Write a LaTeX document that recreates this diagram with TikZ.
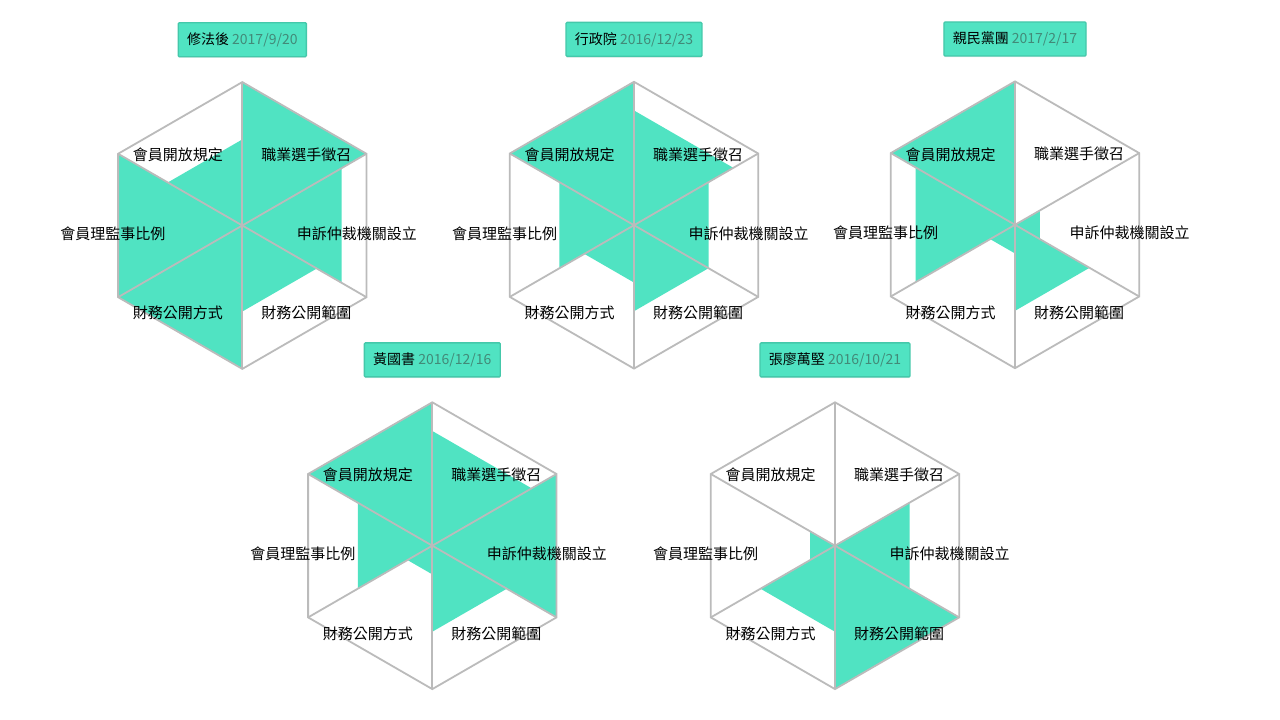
\documentclass[tikz,border=0pt]{standalone}
\usepackage{fontspec}
\setmainfont{Noto Sans CJK TC}
\usepackage{tikz}
\usetikzlibrary{calc,shadows}
\usepackage{xcolor}
\definecolor{mint}{RGB}{80,227,194}
\definecolor{mintdark}{RGB}{68,200,170}
\definecolor{dategray}{RGB}{66,138,120}
\definecolor{gridgray}{RGB}{187,187,187}
\tikzstyle{gridline} = [draw=gridgray, line width=1.8pt]
\tikzstyle{wedge} = [fill=mint, draw=none]
\tikzstyle{axislabel} = [inner sep=0pt, font=\fontsize{15pt}{18pt}\selectfont]
\tikzstyle{namebox} = [draw=mintdark, fill=mint, line width=1.3pt, rounded corners=1pt, inner xsep=8.8pt, minimum height=34pt, font=\fontsize{14pt}{16pt}\selectfont, drop shadow={opacity=0.15, shadow xshift=0pt, shadow yshift=-1.2pt}]

% id, x, y, name, date, six values
\newcommand{\radarchart}[6]{%
  \coordinate (#1) at (#2,#3);
  \foreach \v [count=\k] in {#6} {
    \pgfmathsetmacro{\ang}{120-60*\k}
    \pgfmathsetmacro{\r}{\v*143.4}
    \fill[wedge] (#1) -- ($(#1)+(\ang+30:\r)$) -- ($(#1)+(\ang-30:\r)$) -- cycle;
  }
  \foreach \k in {1,...,6}
    \coordinate (#1-\k) at ($(#1)+(150-60*\k:143.4)$);
  \foreach \k in {1,...,6}
    \draw[gridline] (#1) -- (#1-\k);
  \draw[gridline] (#1-1) -- (#1-2) -- (#1-3) -- (#1-4) -- (#1-5) -- (#1-6) -- cycle;
  \foreach \dx/\dy/\txt [count=\k] in {64/70.5/職業選手徵召, 114.5/-8.3/申訴仲裁機關設立, 64/-87.6/財務公開範圍, -64.5/-87.6/財務公開方式, -129.5/-8.3/會員理監事比例, -64.5/70.5/會員開放規定}
    \node[axislabel] (#1-lab\k) at ($(#1)+(\dx,\dy)$) {\txt};
  \node[namebox] (#1-title) at ($(#1)+(0,185.8)$) {#4 \textcolor{dategray}{#5}};
}

\begin{document}
\begin{tikzpicture}[x=1pt,y=1pt]
\fill[white] (0,0) rectangle (1280,720);
\useasboundingbox (0,0) rectangle (1280,720);

\radarchart{after}{242.3}{494.5}{修法後}{2017/9/20}{1,.8,.6,1,1,.6}
\radarchart{exec}{634}{494.8}{行政院}{2016/12/23}{.8,.6,.6,.4,.6,1}
\radarchart{pfp}{1015}{495.2}{親民黨團}{2017/2/17}{0,.2,.6,.2,.8,1}
\radarchart{huang}{432.3}{174.3}{黃國書}{2016/12/16}{.8,1,.6,.2,.6,1}
\radarchart{chang}{835}{174.3}{張廖萬堅}{2016/10/21}{0,.6,1,.6,.2,0}
\end{tikzpicture}
\end{document}
